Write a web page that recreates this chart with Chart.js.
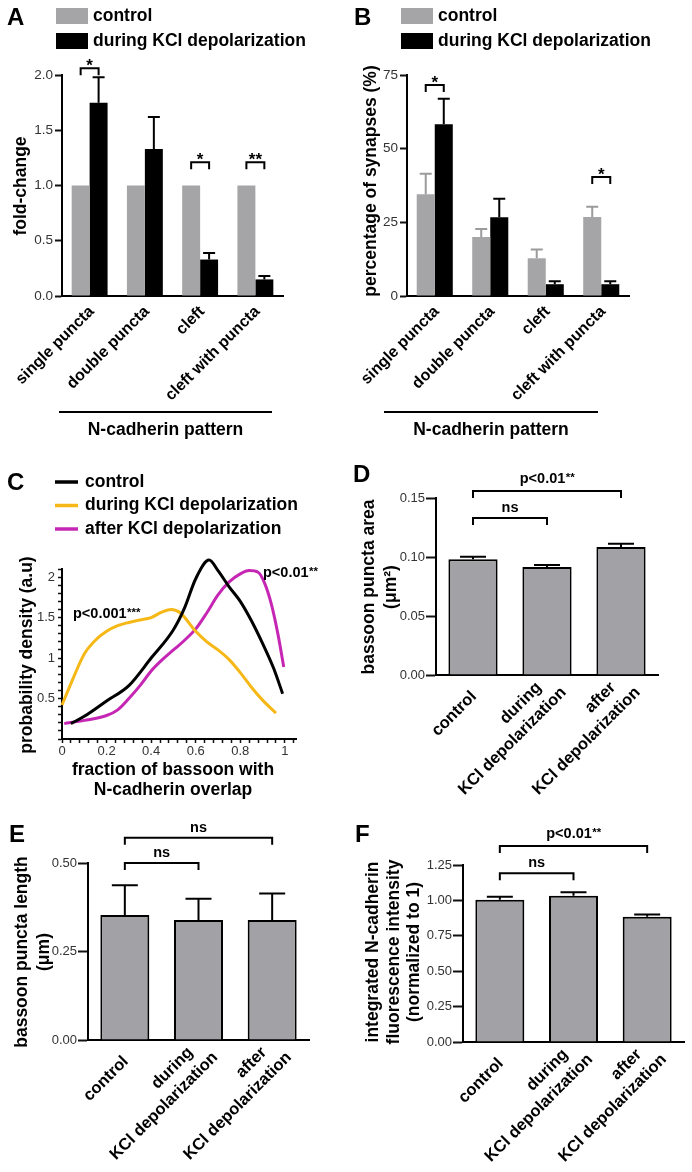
<!DOCTYPE html>
<html>
<head>
<meta charset="utf-8">
<title>N-cadherin and bassoon puncta during and after KCl depolarization</title>
<script src="https://cdn.jsdelivr.net/npm/chart.js@4.4.1/dist/chart.umd.min.js"></script>
<style>
  html, body { margin: 0; padding: 0; background: #fff; }
  #figure { position: relative; width: 692px; height: 1172px; background: #fff; overflow: hidden; }
  #figure canvas { position: absolute; left: 0; top: 0; }
</style>
</head>
<body>
<div id="figure">
  <canvas id="chartA" width="692" height="1172"></canvas>
  <canvas id="chartB" width="692" height="1172"></canvas>
  <canvas id="chartC" width="692" height="1172"></canvas>
  <canvas id="chartD" width="692" height="1172"></canvas>
  <canvas id="chartE" width="692" height="1172"></canvas>
  <canvas id="chartF" width="692" height="1172"></canvas>
</div>
<script>
// ---- data ----
const patternLabels = ['single puncta', 'double puncta', 'cleft', 'cleft with puncta'];
const conditionLabels = [['control'], ['during', 'KCl depolarization'], ['after', 'KCl depolarization']];

// A: fold-change
const foldControl = [1, 1, 1, 1];
const foldKcl = [1.75, 1.33, 0.33, 0.15];
const foldKclSem = [0.23, 0.29, 0.06, 0.03];
const foldSig = [
  { cat: 0, y: 2.06, text: '*' },
  { cat: 2, y: 1.21, text: '*' },
  { cat: 3, y: 1.21, text: '**' }
];

// B: percentage of synapses
const pctControl = [34.5, 20, 12.8, 26.8];
const pctControlSem = [7, 2.7, 3, 3.5];
const pctKcl = [58.3, 26.7, 4, 4];
const pctKclSem = [8.6, 6.3, 1, 1];
const pctSig = [
  { cat: 0, y: 71.6, text: '*' },
  { cat: 3, y: 40.4, text: '*' }
];

// C: probability density vs fraction of bassoon with N-cadherin overlap
const controlX = [0.04, 0.1, 0.2, 0.3, 0.4, 0.5, 0.55, 0.6, 0.66, 0.7, 0.75, 0.8, 0.85, 0.9, 0.95, 0.99];
const controlY = [0.19, 0.28, 0.47, 0.66, 1.0, 1.35, 1.62, 1.98, 2.21, 2.08, 1.88, 1.7, 1.46, 1.18, 0.87, 0.56];
const duringX = [0, 0.05, 0.1, 0.15, 0.2, 0.25, 0.3, 0.35, 0.4, 0.45, 0.49, 0.53, 0.6, 0.65, 0.7, 0.75, 0.8, 0.85, 0.9, 0.96];
const duringY = [0.42, 0.75, 1.05, 1.22, 1.33, 1.4, 1.44, 1.47, 1.5, 1.57, 1.6, 1.56, 1.33, 1.2, 1.1, 0.98, 0.82, 0.64, 0.48, 0.32];
const afterX = [0.01, 0.1, 0.2, 0.25, 0.3, 0.35, 0.4, 0.45, 0.5, 0.55, 0.6, 0.65, 0.7, 0.75, 0.8, 0.84, 0.88, 0.91, 0.94, 0.97, 0.995];
const afterY = [0.19, 0.23, 0.29, 0.36, 0.5, 0.66, 0.84, 0.98, 1.1, 1.22, 1.36, 1.56, 1.78, 1.94, 2.04, 2.08, 2.06, 1.92, 1.66, 1.28, 0.89];

// D: bassoon puncta area (um2)
const areaMean = [0.098, 0.0915, 0.1085];
const areaSem = [0.0023, 0.0018, 0.0027];
const areaSig = [
  { from: 0, to: 1, y: 0.133, text: 'ns' },
  { from: 0, to: 2, y: 0.156, text: 'p<0.01', stars: '**' }
];

// E: bassoon puncta length (um)
const lengthMean = [0.353, 0.339, 0.339];
const lengthSem = [0.084, 0.06, 0.075];
const lengthSig = [
  { from: 0, to: 1, y: 0.5, text: 'ns' },
  { from: 0, to: 2, y: 0.571, text: 'ns' }
];

// F: integrated N-cadherin intensity (normalized)
const intensityMean = [1.005, 1.033, 0.884];
const intensitySem = [0.02, 0.024, 0.017];
const intensitySig = [
  { from: 0, to: 1, y: 1.191, text: 'ns' },
  { from: 0, to: 2, y: 1.384, text: 'p<0.01', stars: '**' }
];

// ---- helpers ----
const FONT = "'Liberation Sans', Arial, Helvetica, sans-serif";
const W = 692, H = 1172;
const Y_W = 45;   // room kept for y tick labels
const GRAY = '#a5a5a7';
const BAR_GRAY = '#a2a2a6';
Chart.defaults.font.family = FONT;

function pad(a, xh) {
  return { left: a.l - Y_W, top: a.t, right: W - a.r, bottom: H - a.b - (xh || 0) };
}

function yAxis(min, max, step, digits, tickLen, padding) {
  return {
    min: min, max: max,
    ticks: { stepSize: step, autoSkip: false, padding: padding, color: '#333',
      font: { family: FONT, size: 13.5 }, callback: v => v.toFixed(digits) },
    grid: { drawOnChartArea: false, drawTicks: true, tickLength: tickLen, tickWidth: 2, tickColor: '#111' },
    border: { display: true, color: '#000', width: 2 },
    afterFit: s => { s.width = Y_W; }
  };
}

function xCategory() {
  return {
    offset: true,
    ticks: { display: false },
    grid: { display: false },
    border: { display: true, color: '#000', width: 2 },
    afterFit: s => { s.height = 0; }
  };
}

function font(size, bold) {
  return (bold ? 'bold ' : '') + size + 'px ' + FONT;
}

function letter(ctx, s, x, y) {
  ctx.save();
  ctx.font = font(24, true);
  ctx.fillStyle = '#000';
  ctx.textBaseline = 'alphabetic';
  ctx.fillText(s, x, y);
  ctx.restore();
}

function axisTitle(ctx, lines, cx, cy, gap) {
  ctx.save();
  ctx.translate(cx, cy);
  ctx.rotate(-Math.PI / 2);
  ctx.font = font(17.5, true);
  ctx.fillStyle = '#000';
  ctx.textAlign = 'center';
  ctx.textBaseline = 'middle';
  lines.forEach((s, i) => ctx.fillText(s, 0, (i - (lines.length - 1) / 2) * gap));
  ctx.restore();
}

// rotated category label, (x, y) is the end of the first line
function catLabel(ctx, lines, x, y, size) {
  ctx.save();
  ctx.translate(x, y);
  ctx.rotate(-Math.PI / 4);
  ctx.font = font(size, true);
  ctx.fillStyle = '#000';
  ctx.textAlign = 'right';
  ctx.textBaseline = 'middle';
  ctx.fillText(lines[0], 0, 0);
  if (lines[1]) ctx.fillText(lines[1], 14, 21);
  ctx.restore();
}

function bracket(ctx, x1, x2, y, leg) {
  ctx.save();
  ctx.strokeStyle = '#000';
  ctx.lineWidth = 2;
  ctx.beginPath();
  ctx.moveTo(x1, y + leg);
  ctx.lineTo(x1, y);
  ctx.lineTo(x2, y);
  ctx.lineTo(x2, y + leg);
  ctx.stroke();
  ctx.restore();
}

// bold p-value text with raised stars
function pText(ctx, main, stars, x, y, align, size) {
  ctx.save();
  ctx.fillStyle = '#000';
  ctx.textBaseline = 'alphabetic';
  ctx.textAlign = 'left';
  ctx.font = font(size, true);
  const w1 = ctx.measureText(main).width;
  ctx.font = font(size - 3, true);
  const w2 = stars ? ctx.measureText(stars).width : 0;
  let x0 = align === 'center' ? x - (w1 + w2) / 2 : x;
  ctx.font = font(size, true);
  ctx.fillText(main, x0, y);
  if (stars) {
    ctx.font = font(size - 3, true);
    ctx.fillText(stars, x0 + w1 + 0.5, y - 2);
  }
  ctx.restore();
}

function drawErrors(chart, cap) {
  const ctx = chart.ctx, yScale = chart.scales.y;
  ctx.save();
  ctx.lineWidth = 2;
  chart.data.datasets.forEach((ds, i) => {
    if (!ds.sem) return;
    ctx.strokeStyle = ds.semColor || '#000';
    chart.getDatasetMeta(i).data.forEach((bar, j) => {
      const top = yScale.getPixelForValue(ds.data[j] + ds.sem[j]);
      ctx.beginPath();
      ctx.moveTo(bar.x, bar.y);
      ctx.lineTo(bar.x, top);
      ctx.moveTo(bar.x - cap / 2, top);
      ctx.lineTo(bar.x + cap / 2, top);
      ctx.stroke();
    });
  });
  ctx.restore();
}

function legendBoxes(ctx, chart, x, y) {
  ctx.save();
  chart.data.datasets.forEach((ds, i) => {
    ctx.fillStyle = ds.backgroundColor;
    ctx.fillRect(x, y + i * 25, 32, 16);
    ctx.fillStyle = '#000';
    ctx.font = font(17.5, true);
    ctx.textBaseline = 'middle';
    ctx.fillText(ds.label, x + 37, y + 8 + i * 25);
  });
  ctx.restore();
}

function groupBrackets(ctx, chart, sigs) {
  const y = chart.scales.y;
  const m0 = chart.getDatasetMeta(0), m1 = chart.getDatasetMeta(1);
  sigs.forEach(s => {
    const x1 = m0.data[s.cat].x, x2 = m1.data[s.cat].x;
    const yy = y.getPixelForValue(s.y);
    bracket(ctx, x1, x2, yy, 7);
    ctx.save();
    ctx.font = font(17, true);
    ctx.fillStyle = '#000';
    ctx.textAlign = 'center';
    ctx.fillText(s.text, (x1 + x2) / 2, yy + 3);
    ctx.restore();
  });
}

function pairBrackets(ctx, chart, sigs) {
  const y = chart.scales.y, meta = chart.getDatasetMeta(0);
  sigs.forEach(s => {
    const x1 = meta.data[s.from].x, x2 = meta.data[s.to].x;
    const yy = y.getPixelForValue(s.y);
    bracket(ctx, x1, x2, yy, 7);
    pText(ctx, s.text, s.stars, (x1 + x2) / 2, yy - (s.text === 'ns' ? 6 : 8), 'center', 14.5);
  });
}

function footLine(ctx, x1, x2, y, label) {
  ctx.save();
  ctx.strokeStyle = '#000';
  ctx.lineWidth = 2;
  ctx.beginPath();
  ctx.moveTo(x1, y);
  ctx.lineTo(x2, y);
  ctx.stroke();
  ctx.font = font(17.5, true);
  ctx.fillStyle = '#000';
  ctx.textAlign = 'center';
  ctx.fillText(label, (x1 + x2) / 2, y + 23);
  ctx.restore();
}

function baseOptions(area, xh) {
  return {
    responsive: false,
    maintainAspectRatio: false,
    animation: false,
    layout: { padding: pad(area, xh) },
    plugins: { legend: { display: false }, tooltip: { enabled: false } }
  };
}

// ---- A ----
const areaA = { l: 62, r: 283, t: 75, b: 296 };
new Chart(document.getElementById('chartA'), {
  type: 'bar',
  data: {
    labels: patternLabels,
    datasets: [
      { label: 'control', data: foldControl, backgroundColor: GRAY, borderWidth: 0, categoryPercentage: 0.65, barPercentage: 1 },
      { label: 'during KCl depolarization', data: foldKcl, sem: foldKclSem, semColor: '#000', backgroundColor: '#000', borderWidth: 0, categoryPercentage: 0.65, barPercentage: 1 }
    ]
  },
  options: Object.assign(baseOptions(areaA), {
    scales: { x: xCategory(), y: yAxis(0, 2, 0.5, 1, 7, 2) }
  }),
  plugins: [{
    id: 'panelA',
    afterDatasetsDraw(chart) { drawErrors(chart, 12); },
    afterDraw(chart) {
      const ctx = chart.ctx, x = chart.scales.x;
      letter(ctx, 'A', 7, 25);
      legendBoxes(ctx, chart, 56, 8);
      axisTitle(ctx, ['fold-change'], 21, 186, 0);
      patternLabels.forEach((lab, i) => catLabel(ctx, [lab], x.getPixelForValue(i) + 2, chart.chartArea.bottom + 13, 16));
      groupBrackets(ctx, chart, foldSig);
      footLine(ctx, 59, 272, 412, 'N-cadherin pattern');
    }
  }]
});

// ---- B ----
const areaB = { l: 407, r: 629, t: 75, b: 296 };
new Chart(document.getElementById('chartB'), {
  type: 'bar',
  data: {
    labels: patternLabels,
    datasets: [
      { label: 'control', data: pctControl, sem: pctControlSem, semColor: '#9b9b9d', backgroundColor: GRAY, borderWidth: 0, categoryPercentage: 0.65, barPercentage: 1 },
      { label: 'during KCl depolarization', data: pctKcl, sem: pctKclSem, semColor: '#000', backgroundColor: '#000', borderWidth: 0, categoryPercentage: 0.65, barPercentage: 1 }
    ]
  },
  options: Object.assign(baseOptions(areaB), {
    scales: { x: xCategory(), y: yAxis(0, 75, 25, 0, 7, 2) }
  }),
  plugins: [{
    id: 'panelB',
    afterDatasetsDraw(chart) { drawErrors(chart, 12); },
    afterDraw(chart) {
      const ctx = chart.ctx, x = chart.scales.x;
      letter(ctx, 'B', 354, 25);
      legendBoxes(ctx, chart, 401, 8);
      axisTitle(ctx, ['percentage of synapses (%)'], 371, 181, 0);
      patternLabels.forEach((lab, i) => catLabel(ctx, [lab], x.getPixelForValue(i) + 2, chart.chartArea.bottom + 13, 16));
      groupBrackets(ctx, chart, pctSig);
      footLine(ctx, 384, 598, 412, 'N-cadherin pattern');
    }
  }]
});

// ---- C ----
const areaC = { l: 62, r: 296, t: 569, b: 739 };
function toPoints(xs, ys) { return xs.map((v, i) => ({ x: v, y: ys[i] })); }
new Chart(document.getElementById('chartC'), {
  type: 'scatter',
  data: {
    datasets: [
      { label: 'control', data: toPoints(controlX, controlY), borderColor: '#000', backgroundColor: '#000' },
      { label: 'during KCl depolarization', data: toPoints(duringX, duringY), borderColor: '#f6b817', backgroundColor: '#f6b817' },
      { label: 'after KCl depolarization', data: toPoints(afterX, afterY), borderColor: '#c626b4', backgroundColor: '#c626b4' }
    ].map(ds => Object.assign(ds, { showLine: true, clip: false, borderWidth: 3, pointRadius: 0, cubicInterpolationMode: 'monotone' }))
  },
  options: Object.assign(baseOptions(areaC, 22), {
    scales: {
      x: {
        type: 'linear', min: 0, max: 1.05,
        ticks: { stepSize: 0.04, autoSkip: false, includeBounds: false, maxRotation: 0, minRotation: 0, padding: 1,
          color: '#333', font: { family: FONT, size: 13 },
          callback: v => { const k = Math.round(v * 100); return k % 20 === 0 ? String(k / 100) : ''; } },
        grid: { drawOnChartArea: false, tickLength: 4, tickWidth: 1.5, tickColor: '#111' },
        border: { display: true, color: '#000', width: 2 },
        afterFit: s => { s.height = 22; }
      },
      y: {
        type: 'linear', min: 0, max: 2.1,
        ticks: { stepSize: 0.1, autoSkip: false, includeBounds: false, padding: 3,
          color: '#333', font: { family: FONT, size: 13 },
          callback: v => { const k = Math.round(v * 10); return (k > 0 && k % 5 === 0) ? String(k / 10) : ''; } },
        grid: { drawOnChartArea: false, tickLength: 4, tickWidth: 1.5, tickColor: '#111' },
        border: { display: true, color: '#000', width: 2 },
        afterFit: s => { s.width = Y_W; }
      }
    }
  }),
  plugins: [{
    id: 'panelC',
    afterDraw(chart) {
      const ctx = chart.ctx;
      letter(ctx, 'C', 7, 490);
      ctx.save();
      chart.data.datasets.forEach((ds, i) => {
        const ly = 482 + i * 23.5;
        ctx.strokeStyle = ds.borderColor;
        ctx.lineWidth = 3.5;
        ctx.beginPath();
        ctx.moveTo(55, ly);
        ctx.lineTo(78, ly);
        ctx.stroke();
        ctx.fillStyle = '#000';
        ctx.font = font(17.5, true);
        ctx.textBaseline = 'middle';
        ctx.fillText(ds.label, 85, ly);
      });
      ctx.restore();
      pText(ctx, 'p<0.001', '***', 73, 618, 'left', 14.5);
      pText(ctx, 'p<0.01', '**', 263, 577, 'left', 14.5);
      axisTitle(ctx, ['probability density (a.u)'], 27, 655, 0);
      ctx.save();
      ctx.font = font(17.5, true);
      ctx.fillStyle = '#000';
      ctx.textAlign = 'center';
      ctx.fillText('fraction of bassoon with', 173, 774.5);
      ctx.fillText('N-cadherin overlap', 173, 794.5);
      ctx.restore();
    }
  }]
});

// ---- D, E, F ----
function conditionPanel(id, area, mean, sem, yOpts, sigs, letterPos, title, titlePos) {
  new Chart(document.getElementById(id), {
    type: 'bar',
    data: {
      labels: conditionLabels,
      datasets: [{
        data: mean, sem: sem, semColor: '#000',
        backgroundColor: BAR_GRAY, borderColor: '#000', borderWidth: 2,
        categoryPercentage: 0.665, barPercentage: 1
      }]
    },
    options: Object.assign(baseOptions(area), {
      scales: { x: xCategory(), y: yOpts }
    }),
    plugins: [{
      id: id + 'Extras',
      afterDatasetsDraw(chart) { drawErrors(chart, 26); },
      afterDraw(chart) {
        const ctx = chart.ctx, x = chart.scales.x, bottom = chart.chartArea.bottom;
        letter(ctx, letterPos[0], letterPos[1], letterPos[2]);
        axisTitle(ctx, title, titlePos[0], titlePos[1], titlePos[2]);
        conditionLabels.forEach((lines, i) => {
          const cx = x.getPixelForValue(i);
          if (lines.length === 1) catLabel(ctx, lines, cx + 1, bottom + 19, 16.5);
          else catLabel(ctx, lines, cx - 8, bottom + 10, 16.5);
        });
        pairBrackets(ctx, chart, sigs);
      }
    }]
  });
}

function yAxisDF(max, step) {
  const y = yAxis(0, max, step, 2, 10, 1);
  y.ticks.font = { family: FONT, size: 13 };
  return y;
}

conditionPanel('chartD', { l: 436, r: 658, t: 498, b: 675 }, areaMean, areaSem, yAxisDF(0.15, 0.05), areaSig,
  ['D', 353, 482], ['bassoon puncta area', '(\u03bcm\u00b2)'], [380, 587, 22]);
conditionPanel('chartE', { l: 88, r: 309, t: 863, b: 1040 }, lengthMean, lengthSem, yAxisDF(0.5, 0.25), lengthSig,
  ['E', 9, 842], ['bassoon puncta length', '(\u03bcm)'], [33, 952, 22]);
conditionPanel('chartF', { l: 463, r: 684, t: 865, b: 1042 }, intensityMean, intensitySem, yAxisDF(1.25, 0.25), intensitySig,
  ['F', 355, 842], ['integrated N-cadherin', 'fluorescence intensity', '(normalized to 1)'], [394, 952, 20.5]);
</script>
</body>
</html>
